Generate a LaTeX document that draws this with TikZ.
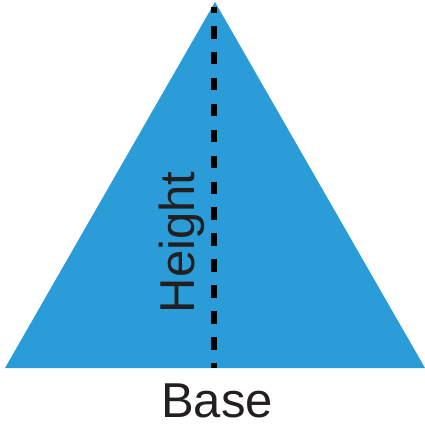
\documentclass[tikz,border=0pt]{standalone}
\usepackage{fontspec}
\setmainfont{Liberation Sans}
\definecolor{triblue}{RGB}{42,157,216}
\definecolor{txtgray}{RGB}{35,31,32}
\tikzset{
  label/.style={inner sep=0pt, text=txtgray, font=\fontsize{49}{55}\selectfont},
  heightline/.style={draw=black, line width=6pt, dash pattern=on 12.5pt off 13.42pt, dash phase=6.4pt}
}
\begin{document}
\begin{tikzpicture}[x=1pt,y=-1pt]
\useasboundingbox (0,0) rectangle (425,423);
\coordinate (apex) at (215,2);
\coordinate (bl) at (5,368);
\coordinate (br) at (425,368);
\fill[triblue] (apex) -- (br) -- (bl) -- cycle;
\coordinate (htop) at (214,6.5);
\coordinate (hbot) at (214,368);
\draw[heightline] (htop) -- (hbot);
\node[label, rotate=90, anchor=base] (height) at (194,242.5) {Height};
\node[label, anchor=base] (base) at (217,417) {Base};
\end{tikzpicture}
\end{document}
